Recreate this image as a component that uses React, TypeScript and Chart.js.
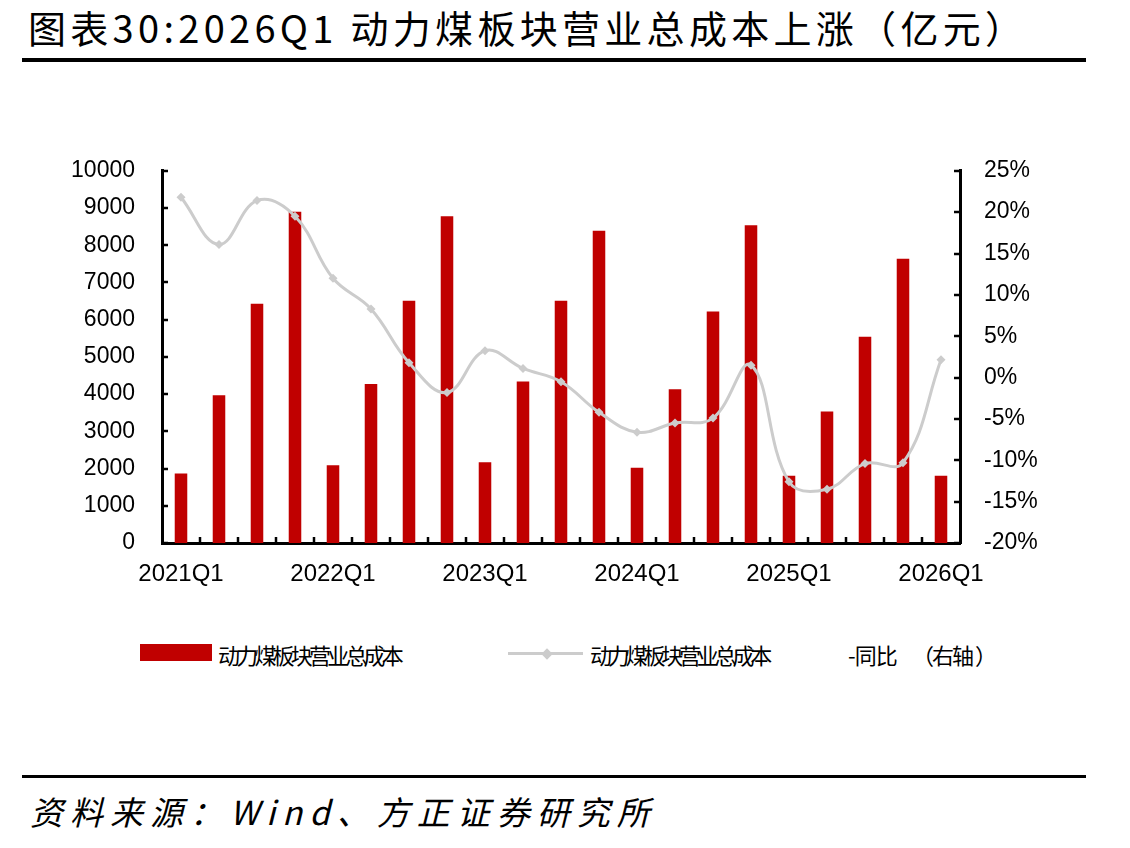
import React, { useEffect, useRef } from "react";
import { Chart, registerables } from "chart.js";

Chart.register(...registerables);

// Quarterly categories
const quarters = [
  "2021Q1", "2021Q2", "2021Q3", "2021Q4",
  "2022Q1", "2022Q2", "2022Q3", "2022Q4",
  "2023Q1", "2023Q2", "2023Q3", "2023Q4",
  "2024Q1", "2024Q2", "2024Q3", "2024Q4",
  "2025Q1", "2025Q2", "2025Q3", "2025Q4",
  "2026Q1",
];

// Quarters whose label is shown on the x axis
const shownLabels = ["2021Q1", "2022Q1", "2023Q1", "2024Q1", "2025Q1", "2026Q1"];

// 动力煤板块营业总成本（亿元，累计）
const totalCost = [
  1870, 3970, 6430, 8900,
  2090, 4270, 6510, 8780,
  2170, 4340, 6510, 8390,
  2020, 4130, 6220, 8540,
  1810, 3530, 5540, 7640,
  1810,
];

// 同比（%，右轴）
const yoyPct = [
  21.8, 16.1, 21.4, 19.5,
  12.0, 8.3, 1.8, -1.8,
  3.25, 1.1, -0.5, -4.2,
  -6.6, -5.5, -4.9, 1.5,
  -12.6, -13.5, -10.4, -10.3,
  2.15,
];

const BAR_RED = "#C00000";
const LINE_GRAY = "#CCCCCC";
const AXIS_FONT = "'Liberation Sans', Arial, sans-serif";
const CJK_FONT = "'Noto Sans CJK SC', 'Noto Sans', sans-serif";

// Short tick marks drawn on the inner side of each axis
const innerTicks = {
  id: "innerTicks",
  afterDraw(chart: any) {
    const { ctx, chartArea } = chart;
    const len = 6;
    ctx.save();
    ctx.strokeStyle = "#000";
    ctx.lineWidth = 2.5;
    const y = chart.scales.y;
    y.ticks.forEach((t: any) => {
      const py = Math.round(y.getPixelForValue(t.value));
      ctx.beginPath();
      ctx.moveTo(chartArea.left, py);
      ctx.lineTo(chartArea.left + len, py);
      ctx.stroke();
    });
    const y1 = chart.scales.y1;
    y1.ticks.forEach((t: any) => {
      const py = Math.round(y1.getPixelForValue(t.value));
      ctx.beginPath();
      ctx.moveTo(chartArea.right, py);
      ctx.lineTo(chartArea.right - len, py);
      ctx.stroke();
    });
    const n = quarters.length;
    const w = (chartArea.right - chartArea.left) / n;
    for (let i = 1; i < n; i++) {
      const px = Math.round(chartArea.left + i * w);
      ctx.beginPath();
      ctx.moveTo(px, chartArea.bottom);
      ctx.lineTo(px, chartArea.bottom - len);
      ctx.stroke();
    }
    ctx.restore();
  },
};

export default function App() {
  const canvasRef = useRef<HTMLCanvasElement | null>(null);

  useEffect(() => {
    if (!canvasRef.current) return;
    const chart = new Chart(canvasRef.current, {
      type: "bar",
      data: {
        labels: quarters,
        datasets: [
          {
            type: "line",
            label: "动力煤板块营业总成本-同比（右轴）",
            data: yoyPct,
            yAxisID: "y1",
            borderColor: LINE_GRAY,
            backgroundColor: LINE_GRAY,
            borderWidth: 3,
            tension: 0.4,
            pointStyle: "rectRot",
            pointRadius: 4.5,
            pointBorderWidth: 0,
            pointBackgroundColor: LINE_GRAY,
            order: 0,
          } as any,
          {
            type: "bar",
            label: "动力煤板块营业总成本",
            data: totalCost,
            yAxisID: "y",
            backgroundColor: BAR_RED,
            barPercentage: 0.33,
            categoryPercentage: 1,
            order: 1,
          },
        ],
      },
      options: {
        responsive: false,
        animation: false,
        layout: { padding: { top: 20, left: 0, right: 0, bottom: 0 } },
        plugins: {
          legend: { display: false },
          tooltip: { enabled: false },
        },
        scales: {
          x: {
            offset: true,
            grid: { display: false, drawTicks: false },
            border: { display: true, color: "#000", width: 3 },
            ticks: {
              autoSkip: false,
              maxRotation: 0,
              padding: 17,
              color: "#000",
              font: { family: AXIS_FONT, size: 24 },
              callback: (_v: any, i: number) =>
                shownLabels.includes(quarters[i]) ? quarters[i] : "",
            },
            afterFit: (s: any) => {
              s.height = 59;
            },
          },
          y: {
            position: "left",
            min: 0,
            max: 10000,
            grid: { display: false, drawTicks: false },
            border: { display: true, color: "#000", width: 3 },
            ticks: {
              stepSize: 1000,
              padding: 27,
              color: "#000",
              font: { family: AXIS_FONT, size: 23 },
              callback: (v: any) => String(v),
            },
            afterFit: (s: any) => {
              s.width = 162;
            },
          },
          y1: {
            position: "right",
            min: -20,
            max: 25,
            grid: { display: false, drawTicks: false },
            border: { display: true, color: "#000", width: 3 },
            ticks: {
              stepSize: 5,
              padding: 24,
              color: "#000",
              font: { family: AXIS_FONT, size: 23 },
              callback: (v: any) => `${v}%`,
            },
            afterFit: (s: any) => {
              s.width = 170;
            },
          },
        },
      },
      plugins: [innerTicks],
    });
    return () => chart.destroy();
  }, []);

  const legendText: React.CSSProperties = {
    position: "absolute",
    top: 641,
    fontSize: 22,
    lineHeight: "26px",
    whiteSpace: "pre",
  };

  return (
    <div
      style={{
        position: "fixed",
        left: 0,
        top: 0,
        width: 1130,
        height: 848,
        background: "#fff",
        overflow: "hidden",
        fontFamily: CJK_FONT,
        color: "#000",
      }}
    >
      <div
        style={{
          position: "absolute",
          left: 28,
          top: 7,
          fontSize: 38,
          lineHeight: "40px",
          letterSpacing: 4.3,
          whiteSpace: "nowrap",
        }}
      >
        图表30:2026Q1 动力煤板块营业总成本上涨（亿元）
      </div>
      <div style={{ position: "absolute", left: 22, top: 58, width: 1064, height: 4, background: "#000" }} />

      <canvas
        ref={canvasRef}
        width={1130}
        height={472}
        style={{ position: "absolute", left: 0, top: 130, width: 1130, height: 472 }}
      />

      {/* legend */}
      <div style={{ position: "absolute", left: 140, top: 644, width: 72, height: 17, background: BAR_RED }} />
      <div style={{ ...legendText, left: 218, letterSpacing: -3.8 }}>动力煤板块营业总成本</div>
      <div style={{ position: "absolute", left: 508, top: 652, width: 75, height: 3, background: LINE_GRAY }} />
      <div
        style={{
          position: "absolute",
          left: 543,
          top: 649.5,
          width: 8,
          height: 8,
          background: LINE_GRAY,
          transform: "rotate(45deg)",
        }}
      />
      <div style={{ ...legendText, left: 590, letterSpacing: -4.2 }}>动力煤板块营业总成本</div>
      <div style={{ ...legendText, left: 848, letterSpacing: -1 }}>-同比</div>
      <div style={{ ...legendText, left: 912, letterSpacing: -2 }}>（右轴 ）</div>

      <div style={{ position: "absolute", left: 22, top: 775, width: 1064, height: 3, background: "#000" }} />
      <div
        style={{
          position: "absolute",
          left: 30,
          top: 792,
          fontSize: 33,
          lineHeight: "38px",
          fontStyle: "italic",
          letterSpacing: 7,
          whiteSpace: "nowrap",
        }}
      >
        资料来源：Wind、方正证券研究所
      </div>
    </div>
  );
}
